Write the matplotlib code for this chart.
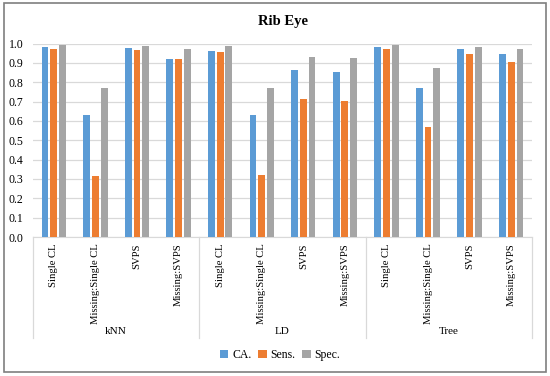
import numpy as np
import matplotlib.pyplot as plt
from matplotlib.patches import Rectangle

plt.rcParams['font.family'] = ['Liberation Serif', 'DejaVu Serif']

groups = ["kNN", "LD", "Tree"]
methods = ["Single CL", "Missing:Single CL", "SVPS", "Missing:SVPS"]
series = ["CA.", "Sens.", "Spec."]
colors = ["#5B9BD5", "#ED7D31", "#A5A5A5"]

ca = [0.980, 0.628, 0.976, 0.921,
      0.962, 0.631, 0.864, 0.853,
      0.984, 0.771, 0.971, 0.948]
sens = [0.971, 0.314, 0.967, 0.922,
        0.957, 0.322, 0.714, 0.703,
        0.974, 0.567, 0.945, 0.903]
spec = [0.993, 0.771, 0.988, 0.974,
        0.986, 0.772, 0.928, 0.924,
        0.993, 0.874, 0.984, 0.974]

W, H = 550, 376
fig = plt.figure(figsize=(W / 100, H / 100), dpi=100)
ax = fig.add_axes([33 / W, 1 - 237 / H, (532 - 33) / W, (237 - 43.5) / H])

n = len(groups) * len(methods)
x = np.arange(n)
bw = 0.165
for k, (vals, lab, c) in enumerate(zip([ca, sens, spec], series, colors)):
    ax.bar(x + (k - 1) * 0.21, vals, bw, color=c, label=lab, zorder=3)

ax.set_xlim(-0.5, n - 0.5)
ax.set_ylim(0, 1.0)
ax.set_yticks(np.arange(0, 1.01, 0.1))
ax.set_yticklabels(["%.1f" % v for v in np.arange(0, 1.01, 0.1)], fontsize=8.5)
ax.yaxis.grid(True, color="#D9D9D9", linewidth=0.9, zorder=0)
ax.tick_params(axis="y", length=0, pad=7)
ax.set_xticks([])
for s in ["top", "right", "left"]:
    ax.spines[s].set_visible(False)
ax.spines["bottom"].set_color("#D9D9D9")

# multi-level category axis
trans = ax.get_xaxis_transform()
for i in range(n):
    ax.text(x[i], -0.032, methods[i % len(methods)], rotation=90, ha="center",
            va="top", fontsize=7.7, transform=trans)
for g in range(len(groups) + 1):
    xs = g * len(methods) - 0.5
    ax.plot([xs, xs], [0, -0.522], color="#D9D9D9", linewidth=0.9,
            transform=trans, clip_on=False)
for g, name in enumerate(groups):
    ax.text(g * len(methods) + 1.5, -0.489, name, ha="center", va="center",
            fontsize=8, transform=trans)

ax.set_title("Rib Eye", fontweight="bold", fontsize=10.5, pad=13)

fig.legend(loc="center", bbox_to_anchor=(280 / W, 1 - 355 / H), ncol=3,
           frameon=False, fontsize=8.5, handlelength=0.7, handleheight=0.7,
           handletextpad=0.3, columnspacing=0.6)

fig.patches.append(Rectangle((4 / W, 4 / H), 542 / W, 369 / H, fill=False,
                             edgecolor="#7F7F7F", linewidth=1.2,
                             transform=fig.transFigure))

fig.savefig("out.png", dpi=100)
